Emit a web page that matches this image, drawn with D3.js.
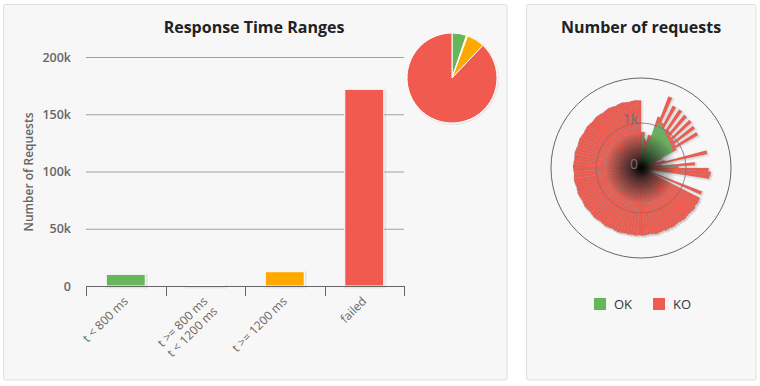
<!DOCTYPE html>
<html><head><meta charset="utf-8">
<script src="https://cdn.jsdelivr.net/npm/d3@7"></script>
<style>
html,body{margin:0;padding:0;background:#fff;}
svg{display:block;font-family:"Open Sans",sans-serif;}
</style></head>
<body><svg id="c" width="760" height="386"></svg>
<script>
// ---- Response Time Ranges ----
const rangeCategories = ["t < 800 ms", "t >= 800 ms\nt < 1200 ms", "t >= 1200 ms", "failed"];
const rangeValues = [10200, 900, 12500, 171800];
const rangeColors = ["#68b65c", "#ffdd00", "#ffa900", "#f15b4f"];
const yTicks = [0, 50000, 100000, 150000, 200000];

// ---- Number of requests (polar, stacked) ----
const okValues = [
 650,720,400,300,500,600,950,1080,1050,1000,980,950,920,900,880,860,850,840,830,820,
 780,300,200,150,200,100,100,150,200,750,100,100,80,50,50,30,30,30,20,
 0,0,0,0,0,0,0,0,0,0, 0,0,0,0,0,0,0,0,0,0, 0,0,0,0,0,0,0,0,0,0, 0,0,0,0,0,0,0,0,0,0,
 0,0,0,0,0,0,0,0,0,0, 0,0,0,0,0,0,0,0,0,0, 0,0,0,0,0,0,0,0,0,0, 0,0,0,0,0,0,0,0,0,0, 0];
const koValues = [
 150,80,250,300,250,150,250,620,50,550,30,600,100,620,80,650,100,640,80,640,
 100,200,150,150,350,1400,200,300,1000,80,1400,1450,1450,200,150,100,100,1420,180,
 1470,1480,1470,1490,1480,1470,1480,1490,1480,1470,
 1480,1490,1480,1490,1480,1490,1500,1490,1480,1490,
 1500,1490,1500,1490,1500,1490,1500,1510,1500,1490,
 1500,1510,1500,1490,1500,1510,1500,1490,1500,1510,
 1500,1490,1500,1510,1500,1490,1500,1510,1500,1490,
 1500,1510,1500,1490,1500,1510,1500,1490,1500,1510,
 1500,1490,1500,1510,1500,1490,1500,1510,1500,1490,
 1500,1510,1500,1490,1500,1510,1500,1490,1500,1510,
 1500];
const requestNames = okValues.map((d, i) => "request_" + (i + 1));
const polarTicks = [0, 1000, 2000];
const legendItems = [{name: "OK", color: "#68b65c"}, {name: "KO", color: "#f15b4f"}];

const svg = d3.select("#c");
const defs = svg.append("defs");

// panels
svg.append("rect").attr("x", 3.5).attr("y", 4.5).attr("width", 503.5).attr("height", 375.5)
  .attr("rx", 2).attr("fill", "#f7f7f7").attr("stroke", "#dedede");
svg.append("rect").attr("x", 526.5).attr("y", 4.5).attr("width", 229.5).attr("height", 375.5)
  .attr("rx", 2).attr("fill", "#f7f7f7").attr("stroke", "#dedede");

// ===== Left: bar chart =====
const left = svg.append("g");
left.append("text").attr("x", 254).attr("y", 33).attr("text-anchor", "middle")
  .attr("font-size", 16).attr("font-weight", 700).attr("fill", "#222").text("Response Time Ranges");

const x = d3.scaleBand().domain(rangeCategories).range([86, 404]);
const y = d3.scaleLinear().domain([0, 200000]).range([286, 57]);

left.append("g").selectAll("line").data(yTicks.filter(d => d > 0)).join("line")
  .attr("x1", 86).attr("x2", 404).attr("y1", d => y(d) + 0.5).attr("y2", d => y(d) + 0.5)
  .attr("stroke", "#a0a0a0");

const yAxis = left.append("g").attr("transform", "translate(86,0)")
  .call(d3.axisLeft(y).tickValues(yTicks).tickSize(0).tickPadding(15)
    .tickFormat(d => d === 0 ? "0" : (d / 1000) + "k"));
yAxis.select(".domain").remove();
yAxis.selectAll("text").attr("font-size", 12.5).attr("font-family", "Open Sans").attr("font-weight", 600).attr("fill", "#666");

left.append("text").attr("transform", "translate(33,172) rotate(-90)").attr("text-anchor", "middle")
  .attr("font-size", 12).attr("font-weight", 600).attr("fill", "#666").text("Number of Requests");

const bw = 39;
const bars = left.append("g");
bars.selectAll("rect.sh").data(rangeValues).join("rect").attr("class", "sh")
  .attr("x", (d, i) => x(rangeCategories[i]) + x.bandwidth() / 2 - bw / 2 + 1)
  .attr("y", d => y(d) + 1).attr("width", bw).attr("height", d => y(0) - y(d))
  .attr("fill", "none").attr("stroke", "rgba(0,0,0,0.07)").attr("stroke-width", 3);
bars.selectAll("rect.b").data(rangeValues).join("rect").attr("class", "b")
  .attr("x", (d, i) => x(rangeCategories[i]) + x.bandwidth() / 2 - bw / 2)
  .attr("y", d => y(d)).attr("width", bw).attr("height", d => y(0) - y(d))
  .attr("fill", (d, i) => rangeColors[i]).attr("stroke", "#fff").attr("stroke-width", 1);

// x axis
const xa = left.append("g");
xa.append("line").attr("x1", 86).attr("x2", 404).attr("y1", 286.5).attr("y2", 286.5).attr("stroke", "#666");
const bounds = rangeCategories.map(c => x(c)).concat([404]);
xa.selectAll("line.t").data(bounds).join("line").attr("class", "t")
  .attr("x1", d => Math.round(d) + 0.5).attr("x2", d => Math.round(d) + 0.5)
  .attr("y1", 286).attr("y2", 296).attr("stroke", "#666");
rangeCategories.forEach(c => {
  const cx = x(c) + x.bandwidth() / 2 + 3;
  const t = xa.append("text").attr("transform", `translate(${cx},302) rotate(-45)`)
    .attr("text-anchor", "end").attr("font-size", 12).attr("fill", "#666");
  c.split("\n").forEach((line, k) => {
    t.append("tspan").attr("x", 0).attr("dy", k === 0 ? 0 : 14).text(line);
  });
});

// pie inset
const pie = d3.pie().sort(null)(rangeValues);
const arcP = d3.arc().innerRadius(0).outerRadius(45);
const pg = left.append("g").attr("transform", "translate(452,78)");
pg.append("circle").attr("r", 46).attr("cx", 1).attr("cy", 1).attr("fill", "rgba(0,0,0,0.06)");
pg.selectAll("path").data(pie).join("path").attr("d", arcP)
  .attr("fill", (d, i) => rangeColors[i]).attr("stroke", "#fff").attr("stroke-width", 1);

// ===== Right: polar =====
const right = svg.append("g");
right.append("text").attr("x", 641).attr("y", 33).attr("text-anchor", "middle")
  .attr("font-size", 16).attr("font-weight", 700).attr("fill", "#222").text("Number of requests");

const cx = 641, cy = 168;
const r = d3.scaleLinear().domain([0, 2000]).range([0, 90]);
const ang = d3.scaleBand().domain(requestNames).range([0, 2 * Math.PI]);
const pgc = right.append("g").attr("transform", `translate(${cx},${cy})`);

pgc.append("circle").attr("r", r(2000)).attr("fill", "none").attr("stroke", "#666");
pgc.append("circle").attr("r", r(1000)).attr("fill", "none").attr("stroke", "#aaa");

const arc = d3.arc();
const data = requestNames.map((n, i) => ({
  a0: ang(n), a1: ang(n) + ang.bandwidth(), ok: okValues[i], ko: koValues[i]
}));
// shadows
pgc.append("g").attr("transform", "translate(1,1)").selectAll("path").data(data).join("path")
  .attr("d", d => arc({innerRadius: 0, outerRadius: r(d.ok + d.ko), startAngle: d.a0, endAngle: d.a1}))
  .attr("fill", "rgba(0,0,0,0.04)").attr("stroke", "rgba(0,0,0,0.08)").attr("stroke-width", 2.5);
pgc.append("g").selectAll("path").data(data).join("path")
  .attr("d", d => arc({innerRadius: r(d.ok), outerRadius: r(d.ok + d.ko), startAngle: d.a0, endAngle: d.a1}))
  .attr("fill", "#f15b4f").attr("stroke", "rgba(120,120,120,0.45)").attr("stroke-width", 0.4);
pgc.append("g").selectAll("path").data(data.filter(d => d.ok > 0)).join("path")
  .attr("d", d => arc({innerRadius: 0, outerRadius: r(d.ok), startAngle: d.a0, endAngle: d.a1}))
  .attr("fill", "#68b65c").attr("stroke", "rgba(80,120,80,0.5)").attr("stroke-width", 0.4);

// inner gridline faintly over bars
pgc.append("circle").attr("r", r(1000)).attr("fill", "none").attr("stroke", "rgba(80,80,80,0.25)");

// center darkness
const rg = defs.append("radialGradient").attr("id", "dark");
rg.append("stop").attr("offset", "0%").attr("stop-color", "#000").attr("stop-opacity", 1);
rg.append("stop").attr("offset", "30%").attr("stop-color", "#000").attr("stop-opacity", 0.6);
rg.append("stop").attr("offset", "100%").attr("stop-color", "#000").attr("stop-opacity", 0);
pgc.append("circle").attr("r", 36).attr("fill", "url(#dark)");

// polar y labels
pgc.selectAll("text.yl").data(polarTicks.slice(0, 2)).join("text").attr("class", "yl")
  .attr("x", -3).attr("y", d => -r(d) + 1).attr("text-anchor", "end")
  .attr("font-size", 14).attr("fill", "#707070").text(d => d === 0 ? "0" : (d / 1000) + "k");

// legend
const lg = right.append("g");
legendItems.forEach((it, i) => {
  const lx = 594 + i * 59;
  lg.append("rect").attr("x", lx).attr("y", 298).attr("width", 12).attr("height", 12).attr("fill", it.color);
  lg.append("text").attr("x", lx + 20).attr("y", 309).attr("font-size", 13).attr("fill", "#333").text(it.name);
});
</script></body></html>
